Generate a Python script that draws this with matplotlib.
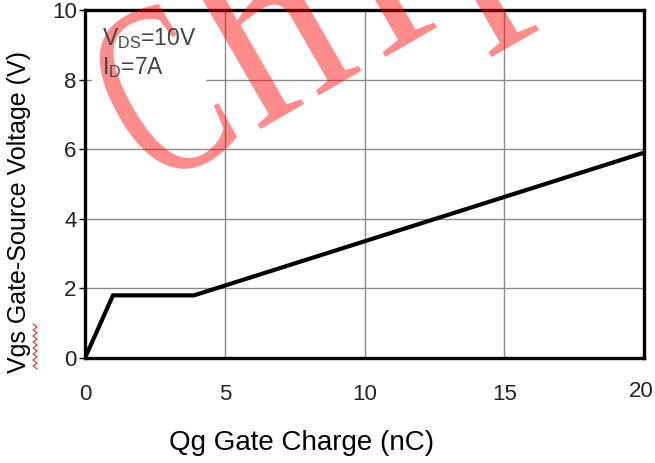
import numpy as np
import matplotlib
matplotlib.use("Agg")
import matplotlib.pyplot as plt
from matplotlib.lines import Line2D
from matplotlib.patches import PathPatch
from matplotlib.path import Path
from matplotlib.textpath import TextPath
from matplotlib.font_manager import FontProperties
import matplotlib.transforms as mtransforms

plt.rcParams['font.family'] = ['Liberation Sans', 'DejaVu Sans']
plt.rcParams['mathtext.fontset'] = 'custom'
plt.rcParams['mathtext.rm'] = 'Liberation Sans'

# gate charge curve
qg = [0, 1.0, 3.9, 20]
vgs = [0, 1.8, 1.8, 5.9]

xticks = [0, 5, 10, 15, 20]
yticks = [0, 2, 4, 6, 8, 10]
note = 'V$_{\\mathrm{DS}}$=10V\nI$_{\\mathrm{D}}$=7A'
watermark = 'Chip'

W, H = 655, 463
fig = plt.figure(figsize=(W / 100, H / 100), dpi=100)
ax = fig.add_axes([85 / W, 1 - 358 / H, (644 - 85) / W, (358 - 10) / H])

ax.plot(qg, vgs, color='black', lw=3.0, solid_joinstyle='miter', zorder=3)

ax.set_xlim(0, 20)
ax.set_ylim(0, 10)
ax.set_xticks(xticks)
ax.set_yticks(yticks)
ax.grid(True, color='#8a8a8a', lw=1.0)
for s in ax.spines.values():
    s.set_linewidth(2.4)
    s.set_color('black')
ax.tick_params(axis='x', length=0, pad=19, labelsize=16, labelcolor='#222222')
ax.tick_params(axis='y', length=4, width=1, direction='out', pad=2,
               labelsize=16, labelcolor='#222222')
# the last x label sits a little higher and left in the original
lbl = ax.get_xticklabels()[-1]
lbl.set_transform(lbl.get_transform() + mtransforms.ScaledTranslation(-0.03, 0.03, fig.dpi_scale_trans))

fig.text(302 / W, 1 - 443 / H, 'Qg Gate Charge (nC)', fontsize=20,
         ha='center', va='center')
fig.text(19 / W, 1 - 212 / H, 'Vgs Gate-Source Voltage (V)', fontsize=18,
         ha='center', va='center', rotation=90)

# spell-check squiggle under "gs"
zy = np.arange(324, 372, 3)
zx = np.where(np.arange(len(zy)) % 2 == 0, 33, 37)
fig.add_artist(Line2D(zx / W, 1 - zy / H, color='#cc3333', lw=0.8))

# white patch behind the test conditions (the grid stops there)
ax.text(0.6, 9.55, note, fontsize=16.5, color='none', va='top', ha='left',
        linespacing=1.25, bbox=dict(facecolor='white', edgecolor='none', pad=7), zorder=2)

# watermark: spaced serif letters (narrow C), rotated 30 degrees
fp = FontProperties(family='Liberation Serif')
em = 250
letter_x = [38, 156, 300, 393]      # offsets along the baseline, px
letter_sx = [0.65, 1.0, 1.0, 1.0]   # horizontal squeeze per letter
parts = []
for ch, lx, sx in zip(watermark, letter_x, letter_sx):
    p = TextPath((0, 0), ch, size=em, prop=fp)
    parts.append(p.transformed(mtransforms.Affine2D().scale(sx, 1).translate(lx, 0)))
wm = Path.make_compound_path(*parts)
tr = mtransforms.Affine2D().rotate_deg(30).translate(121, H - 209.6)
fig.add_artist(PathPatch(wm, transform=tr + mtransforms.IdentityTransform(),
                         facecolor=(1, 0, 0, 0.45), edgecolor='none', zorder=5))

# test conditions drawn over the watermark
fig.text(0.6, 9.55, note, fontsize=16.5, color='#444444', va='top', ha='left',
         linespacing=1.25, transform=ax.transData, zorder=6)

fig.savefig('out.png', dpi=100)
